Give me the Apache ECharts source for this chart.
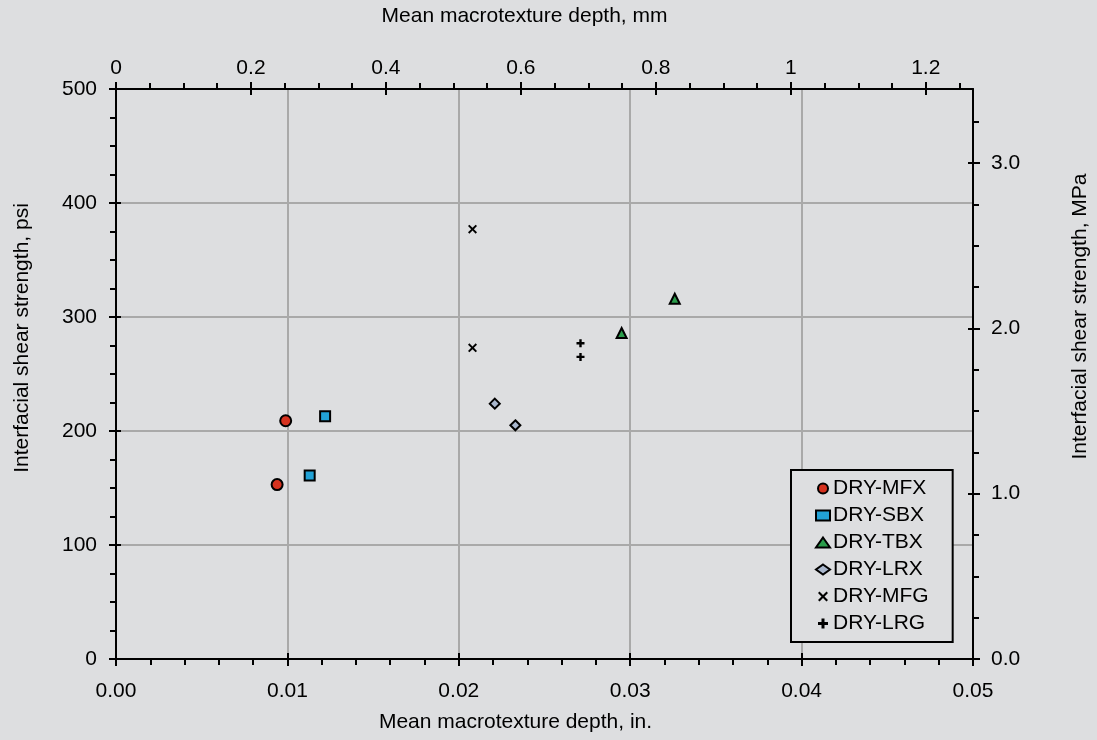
<!DOCTYPE html>
<html>
<head>
<meta charset="utf-8">
<script src="https://cdn.jsdelivr.net/npm/echarts@6/dist/echarts.min.js"></script>
<style>
  html, body { margin: 0; padding: 0; background: #dddee0; }
  #chart { width: 1097px; height: 740px; }
</style>
</head>
<body>
<div id="chart"></div>
<script>
// data: depth in inches, shear strength in psi
const mfxX = [0.0099, 0.0094];
const mfxY = [209, 153];
const sbxX = [0.0122, 0.0113];
const sbxY = [213, 161];
const tbxX = [0.0326, 0.0295];
const tbxY = [316, 286];
const lrxX = [0.0221, 0.0233];
const lrxY = [224, 205];
const mfgX = [0.0208, 0.0208];
const mfgY = [377, 273];
const lrgX = [0.0271, 0.0271];
const lrgY = [277, 265];

// secondary axis ticks
const mmTicks = [0, 0.2, 0.4, 0.6, 0.8, 1, 1.2];
const mmMinorTicks = [0.05, 0.1, 0.15, 0.25, 0.3, 0.35, 0.45, 0.5, 0.55, 0.65, 0.7, 0.75,
  0.85, 0.9, 0.95, 1.05, 1.1, 1.15, 1.25];
const mpaTicks = [0, 1, 2, 3];
const mpaMinorTicks = [0.25, 0.5, 0.75, 1.25, 1.5, 1.75, 2.25, 2.5, 2.75, 3.25];

const IN_TO_MM = 25.4;
const MPA_TO_PSI = 145.0377;
const xMax = 0.05;
const yMax = 500;
const mmMax = xMax * IN_TO_MM;
const mpaMax = yMax / MPA_TO_PSI;

const font = 'Liberation Sans, Arial, Helvetica, sans-serif';
const bg = '#dddee0';
const black = '#000';

const pts = (xs, ys) => xs.map((x, i) => [x, ys[i]]);
const xShape = 'path://M0,1.5L1.5,0L5,3.5L8.5,0L10,1.5L6.5,5L10,8.5L8.5,10L5,6.5L1.5,10L0,8.5L3.5,5Z';
const plusShape = 'path://M3.5,0H6.5V3.5H10V6.5H6.5V10H3.5V6.5H0V3.5H3.5Z';

const chart = echarts.init(document.getElementById('chart'));

const line = { show: true, onZero: false, lineStyle: { color: black, width: 2 } };
const noLine = { show: false, onZero: false };
const tickLine = { color: black, width: 2 };
const labelStyle = { color: black, fontSize: 21, fontFamily: font };
// padding nudges each title off the axis centre like in the original
const nameStyle = pad => ({ color: black, fontSize: 21, fontFamily: font, padding: pad });
const gridBox = { left: 116, right: 124, top: 89, bottom: 81, outerBoundsMode: 'none' };

// helper for the extra tick-only axes
function tickAxis(grid, pos, min, max, tick) {
  return {
    type: 'value', gridIndex: grid, position: pos, min: min, max: max,
    axisLine: noLine, axisLabel: { show: false }, splitLine: { show: false },
    axisTick: Object.assign({ show: true, lineStyle: tickLine }, tick)
  };
}

const option = {
  backgroundColor: bg,
  animation: false,
  grid: [
    Object.assign({}, gridBox),
    Object.assign({}, gridBox),
    Object.assign({}, gridBox)
  ],
  legend: {
    orient: 'vertical',
    left: 791,
    top: 470,
    padding: [8, 24, 8, 24],
    itemGap: 6,
    itemWidth: 14,
    itemHeight: 10,
    borderColor: black,
    borderWidth: 2,
    borderRadius: 0,
    backgroundColor: bg,
    textStyle: { color: black, fontSize: 21, fontFamily: font, padding: [0, 0, 0, -2] },
    data: ['DRY-MFX', 'DRY-SBX', 'DRY-TBX', 'DRY-LRX', 'DRY-MFG', 'DRY-LRG']
  },
  xAxis: [
    {
      // bottom, inches
      type: 'value', gridIndex: 0, position: 'bottom', min: 0, max: xMax, interval: 0.01,
      name: 'Mean macrotexture depth, in.', nameLocation: 'middle', nameGap: 53,
      nameTextStyle: nameStyle([0, 58, 0, 0]),
      axisLine: line,
      axisTick: { show: true, length: 7, lineStyle: tickLine },
      minorTick: { show: true, splitNumber: 5, length: 6, lineStyle: tickLine },
      axisLabel: Object.assign({ margin: 22, formatter: v => v.toFixed(2) }, labelStyle),
      splitLine: { show: true, lineStyle: { color: '#a9a9a9', width: 2 } }
    },
    {
      // top, millimetres
      type: 'value', gridIndex: 0, position: 'top', min: 0, max: mmMax,
      name: 'Mean macrotexture depth, mm', nameLocation: 'middle', nameGap: 62,
      nameTextStyle: nameStyle([0, 40, 0, 0]),
      axisLine: line, splitLine: { show: false },
      axisTick: { show: true, length: 7, customValues: mmTicks, lineStyle: tickLine },
      axisLabel: Object.assign({ margin: 10, customValues: mmTicks }, labelStyle)
    },
    Object.assign(tickAxis(1, 'bottom', 0, xMax, { inside: true, length: 6 }), { interval: 0.01 }),
    tickAxis(1, 'top', 0, mmMax, { inside: true, length: 6, customValues: mmTicks }),
    tickAxis(2, 'top', 0, mmMax, { length: 6, customValues: mmMinorTicks })
  ],
  yAxis: [
    {
      // left, psi
      type: 'value', gridIndex: 0, position: 'left', min: 0, max: yMax, interval: 100,
      name: 'Interfacial shear strength, psi', nameLocation: 'middle', nameGap: 83,
      nameTextStyle: nameStyle([0, 0, 0, 72]),
      axisLine: line,
      axisTick: { show: true, length: 7, lineStyle: tickLine },
      minorTick: { show: true, splitNumber: 4, length: 6, lineStyle: tickLine },
      axisLabel: Object.assign({ margin: 19 }, labelStyle),
      splitLine: { show: true, lineStyle: { color: '#a9a9a9', width: 2 } }
    },
    {
      // right, MPa
      type: 'value', gridIndex: 0, position: 'right', min: 0, max: mpaMax,
      name: 'Interfacial shear strength, MPa', nameLocation: 'middle', nameGap: 97,
      nameTextStyle: nameStyle([0, 0, 0, 115]),
      axisLine: line, splitLine: { show: false },
      axisTick: { show: true, length: 7, customValues: mpaTicks, lineStyle: tickLine },
      axisLabel: Object.assign({ margin: 18, customValues: mpaTicks, formatter: v => v.toFixed(1) }, labelStyle)
    },
    Object.assign(tickAxis(1, 'left', 0, yMax, { inside: true, length: 5 }), { interval: 100 }),
    tickAxis(1, 'right', 0, mpaMax, { inside: true, length: 5, customValues: mpaTicks }),
    tickAxis(2, 'right', 0, mpaMax, { length: 6, customValues: mpaMinorTicks })
  ],
  series: [
    {
      name: 'DRY-MFX', type: 'scatter', data: pts(mfxX, mfxY),
      symbol: 'circle', symbolSize: 11,
      itemStyle: { color: '#d6321f', borderColor: black, borderWidth: 2, opacity: 1 }
    },
    {
      name: 'DRY-SBX', type: 'scatter', data: pts(sbxX, sbxY),
      symbol: 'rect', symbolSize: 10,
      itemStyle: { color: '#22a2d6', borderColor: black, borderWidth: 2, opacity: 1 }
    },
    {
      name: 'DRY-TBX', type: 'scatter', data: pts(tbxX, tbxY),
      symbol: 'triangle', symbolSize: 10,
      itemStyle: { color: '#2a9d4b', borderColor: black, borderWidth: 2, opacity: 1 }
    },
    {
      name: 'DRY-LRX', type: 'scatter', data: pts(lrxX, lrxY),
      symbol: 'diamond', symbolSize: 10,
      itemStyle: { color: '#a9b7cd', borderColor: black, borderWidth: 2, opacity: 1 }
    },
    {
      name: 'DRY-MFG', type: 'scatter', data: pts(mfgX, mfgY),
      symbol: xShape, symbolSize: 9,
      itemStyle: { color: black, opacity: 1 }
    },
    {
      name: 'DRY-LRG', type: 'scatter', data: pts(lrgX, lrgY),
      symbol: plusShape, symbolSize: 8,
      itemStyle: { color: black, opacity: 1 }
    }
  ]
};

chart.setOption(option);
</script>
</body>
</html>
